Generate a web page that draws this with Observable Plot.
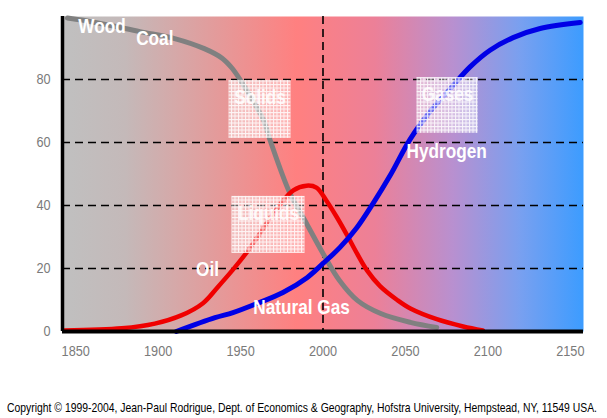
<!DOCTYPE html>
<html><head><meta charset="utf-8">
<script src="https://cdn.jsdelivr.net/npm/d3@7"></script>
<script src="https://cdn.jsdelivr.net/npm/@observablehq/plot@0.6"></script>
<style>
body{margin:0;background:#fff;}
#chart{position:absolute;left:0;top:0;}
#cap{font-family:"Liberation Sans",Arial,sans-serif;font-size:13px;color:#000;position:absolute;left:7px;top:400px;white-space:nowrap;transform-origin:0 0;}
</style></head><body>
<div id="chart"></div>
<div id="cap">Copyright © 1999-2004, Jean-Paul Rodrigue, Dept. of Economics &amp; Geography, Hofstra University, Hempstead, NY, 11549 USA.</div>
<script>
// Wood / Coal (solids)
const coalYears  = [1845, 1862, 1889, 1910, 1928, 1939, 1945, 1950, 1964, 1968, 1980, 1990, 2000, 2010, 2021, 2035, 2053, 2069];
const coalValues = [99.5, 98.1, 95.2, 93.0, 89.8, 86.7, 83.5, 79.7, 67.0, 60.6, 43.8, 34.3, 24.8, 16.2, 9.8, 5.7, 2.9, 1.3];
// Oil (liquids)
const oilYears  = [1843, 1878, 1898, 1914, 1927, 1936, 1945, 1953, 1960, 1972, 1982, 1990, 1996, 2002, 2008.5, 2014.6, 2020.6, 2026.7, 2034.6, 2045, 2053, 2069, 2085, 2097];
const oilValues = [0.3, 1.0, 2.5, 5.1, 8.9, 14.0, 19.4, 24.6, 29.8, 39.0, 44.8, 46.3, 45.7, 41.6, 36.2, 30.6, 24.8, 19.4, 14.4, 10.0, 7.3, 3.9, 1.6, 0.3];
// Natural gas / Hydrogen (gases)
const gasYears  = [1911, 1934.5, 1945.4, 1960, 1975.7, 1990.3, 2000, 2010.3, 2020.6, 2030.3, 2040.7, 2052.8, 2064.9, 2078.9, 2089.2, 2101.3, 2115.3, 2131.7, 2156];
const gasValues = [0, 4.4, 6.0, 8.9, 12.4, 17.1, 21.6, 26.7, 33.0, 40.6, 49.5, 61.0, 69.8, 78.1, 84.0, 89.3, 93.3, 96.2, 98.1];

// Phase boxes
const phaseNames = ["Solids", "Liquids", "Gases"];
const phaseStart = [1943, 1944.8, 2057];
const phaseEnd   = [1980.6, 1989.1, 2094.1];
const phaseTop   = [79.7, 42.9, 80.6];
const phaseBottom= [61.3, 24.8, 62.9];

// Source labels
const labelNames  = ["Wood", "Coal", "Oil", "Natural Gas", "Hydrogen"];
const labelYears  = [1866, 1898, 1930, 1987, 2075];
const labelValues = [96.8, 93.0, 19.7, 7.6, 57.1];

const xTicks = [1850, 1900, 1950, 2000, 2050, 2100, 2150];
const yTicks = [0, 20, 40, 60, 80];
const gridValues = [20, 40, 60, 80];
const markerYear = [2000];

const coal = coalYears.map((y, i) => ({year: y, value: coalValues[i]}));
const oil = oilYears.map((y, i) => ({year: y, value: oilValues[i]}));
const gas = gasYears.map((y, i) => ({year: y, value: gasValues[i]}));
const phases = phaseNames.map((n, i) => ({name: n, x1: phaseStart[i], x2: phaseEnd[i], y1: phaseTop[i], y2: phaseBottom[i], xm: (phaseStart[i] + phaseEnd[i]) / 2}));
const labels = labelNames.map((n, i) => ({name: n, year: labelYears[i], value: labelValues[i]}));

const FONT = '"Liberation Sans",Arial,sans-serif';
const X0 = 1842, X1 = 2158;

const svg = Plot.plot({
  width: 607,
  height: 385,
  marginLeft: 62,
  marginRight: 24,
  marginTop: 16,
  marginBottom: 54,
  style: {fontFamily: FONT, background: "white"},
  x: {domain: [X0, X1], axis: null},
  y: {domain: [0, 100], axis: null},
  marks: [
    Plot.frame({fill: "url(#bgGrad)", stroke: null}),
    Plot.ruleY(gridValues, {stroke: "#000", strokeWidth: 1.6, strokeDasharray: "8,5"}),
    Plot.ruleX(markerYear, {stroke: "#000", strokeWidth: 1.6, strokeDasharray: "8,5"}),
    Plot.line(coal, {x: "year", y: "value", stroke: "#808080", strokeWidth: 5, curve: "catmull-rom"}),
    Plot.line(oil, {x: "year", y: "value", stroke: "#f00000", strokeWidth: 4.5, curve: "catmull-rom"}),
    Plot.line(gas, {x: "year", y: "value", stroke: "#0000e6", strokeWidth: 5, curve: "catmull-rom"}),
    Plot.rect(phases, {x1: "x1", x2: "x2", y1: "y1", y2: "y2", fill: "url(#boxPat)"}),
    Plot.text(phases, {x: "xm", y: "y1", text: "name", dy: 17, fill: "white", fillOpacity: 0.85, fontSize: 21, fontWeight: "bold"}),
    Plot.text(labels, {x: "year", y: "value", text: "name", fill: "white", fontSize: 21, fontWeight: "bold"}),
    Plot.ruleX([X0], {stroke: "#000", strokeWidth: 3.5}),
    Plot.ruleY([0], {stroke: "#000", strokeWidth: 4}),
    Plot.axisX(xTicks, {tickSize: 0, tickPadding: 13, fontSize: 15.5, fill: "#7a7a7a", label: null, tickFormat: d => String(d)}),
    Plot.axisY(yTicks, {tickSize: 0, tickPadding: 12, fontSize: 15.5, fill: "#7a7a7a", label: null, tickFormat: d => String(d)})
  ]
});

const ns = "http://www.w3.org/2000/svg";
const defs = document.createElementNS(ns, "defs");
defs.innerHTML = `
  <linearGradient id="bgGrad" x1="0" y1="0" x2="1" y2="0">
    <stop offset="0" stop-color="#c0c0c0"/>
    <stop offset="0.12" stop-color="#c4b9b9"/>
    <stop offset="0.45" stop-color="#ff8080"/>
    <stop offset="0.6" stop-color="#ec8098"/>
    <stop offset="0.75" stop-color="#b890d0"/>
    <stop offset="0.88" stop-color="#78a0f0"/>
    <stop offset="1" stop-color="#3c9cff"/>
  </linearGradient>
  <pattern id="boxPat" width="3.5" height="3.5" patternUnits="userSpaceOnUse">
    <rect width="3.5" height="3.5" fill="white" fill-opacity="0.4"/>
    <path d="M0 0.5H3.5M0.5 0V3.5" stroke="white" stroke-opacity="0.85" stroke-width="1"/>
  </pattern>`;
svg.insertBefore(defs, svg.firstChild);
document.getElementById("chart").appendChild(svg);

// Narrow the type horizontally (Arial Narrow look) around each text's anchor
const S = 0.82;
svg.querySelectorAll("text").forEach(t => {
  const b = t.getBBox();
  const anchor = getComputedStyle(t).textAnchor || "start";
  const ax = anchor === "middle" ? b.x + b.width / 2 : anchor === "end" ? b.x + b.width : b.x;
  const prev = t.getAttribute("transform") || "";
  t.setAttribute("transform", `${prev} translate(${ax},0) scale(${S},1) translate(${-ax},0)`.trim());
});

// Fit the copyright line to the reference width
const cap = document.getElementById("cap");
const w = cap.getBoundingClientRect().width;
cap.style.transform = `scaleX(${590 / w})`;
</script>
</body></html>
